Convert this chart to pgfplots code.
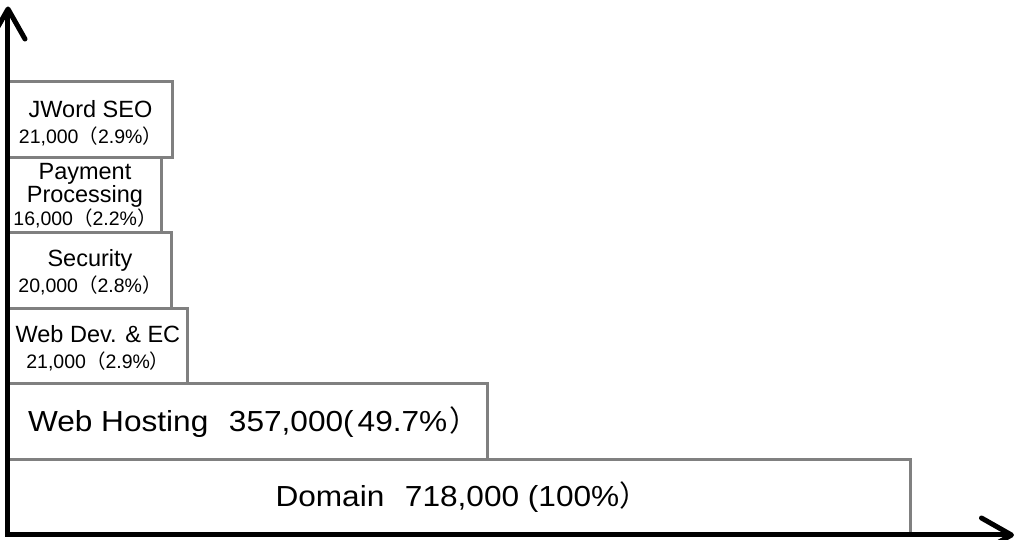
\documentclass[border=0pt]{standalone}
\usepackage{pgfplots}
\pgfplotsset{compat=1.18}
\usetikzlibrary{arrows.meta}
\usepackage{fontspec}
\setmainfont{Liberation Sans}
\newfontfamily\bigfam[FakeStretch=1.09]{Liberation Sans}
\newfontfamily\cjk{Noto Sans CJK JP}
\definecolor{bargray}{HTML}{808080}
\newcommand{\lp}{{\cjk （}}
\newcommand{\rp}{{\cjk ）}}
\newcommand{\bigf}{\bigfam\fontsize{29}{34}\selectfont}
\newcommand{\onef}{\fontsize{23.5}{26}\selectfont}
\newcommand{\twof}{\fontsize{19.5}{26}\selectfont}
\begin{document}
\begin{tikzpicture}
\begin{axis}[
  scale only axis,
  width=1006pt, height=528.5pt,
  xmin=0, xmax=800, ymin=0, ymax=7,
  axis lines=left,
  axis on top=true,
  ticks=none,
  clip=false,
  axis line style={line width=5pt, line cap=rect, -{Straight Barb[length=30pt,width=34pt,round]}},
]
\coordinate (orig) at (rel axis cs:0,0);
% displayed bar lengths (Domain = 718 thousand)
\addplot[xbar, bar width=1, draw=bargray, fill=white, line width=3pt] coordinates {
  (718,0.5)
  (381.7,1.5)
  (143.1,2.5)
  (130.4,3.5)
  (122.4,4.5)
  (131.2,5.5)
};
\node[font=\bigf] at (axis cs:361,0.5) {Domain\ \ \hspace{3pt}718,000 (100\%\rp};
\node[font=\bigf] at (axis cs:195,1.5) {Web Hosting\ \ \hspace{3pt}357,000(\hspace{4pt}49.7\%\hspace{2pt}\rp};
\node[align=center, inner sep=0pt, font=\onef] at (axis cs:71.5,2.48) {Web Dev. \& EC\\{\twof 21,000\lp2.9\%\rp}};
\node[align=center, inner sep=0pt, font=\onef] at (axis cs:65.2,3.48) {Security\\{\twof 20,000\lp2.8\%\rp}};
\node[align=center, inner sep=0pt, font=\fontsize{23.5}{21.5}\selectfont] at (axis cs:61.2,4.495) {Payment\\Processing\\{\fontsize{19.5}{21.5}\selectfont 16,000\lp2.2\%\rp}};
\node[align=center, inner sep=0pt, font=\onef] at (axis cs:65.6,5.46) {JWord SEO\\{\twof 21,000\lp2.9\%\rp}};
\end{axis}
\pgfresetboundingbox
\path[use as bounding box] ([shift={(-8pt,-5pt)}]orig) rectangle ([shift={(1007pt,535pt)}]orig);
\end{tikzpicture}
\end{document}
